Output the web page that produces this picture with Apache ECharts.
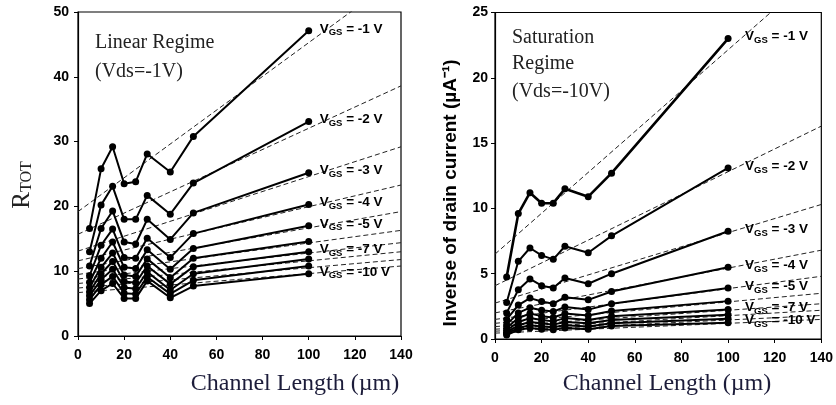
<!DOCTYPE html>
<html>
<head>
<meta charset="utf-8">
<script src="https://cdn.jsdelivr.net/npm/echarts@6/dist/echarts.min.js"></script>
<style>
  html, body { margin: 0; padding: 0; background: #fff; }
  #chart { width: 836px; height: 405px; }
</style>
</head>
<body>
<div id="chart"></div>
<script>
// Channel lengths (µm) where devices were measured
const channelLength = [5, 10, 15, 20, 25, 30, 40, 50, 100];

// Gate voltages, one curve per value
const gateVoltage = ['-1 V', '-2 V', '-3 V', '-4 V', '-5 V', '-6 V', '-7 V', '-8 V', '-9 V', '-10 V'];
const gateLabelShown = [true, true, true, true, true, false, true, false, false, true];

// Linear regime (Vds = -1 V): total resistance R_TOT
const rLinear = [
  [16.6, 25.8, 29.2, 23.5, 23.8, 28.1, 25.3, 30.8, 47.1],
  [13.0, 20.2, 23.1, 18.0, 18.0, 21.7, 18.8, 23.6, 33.1],
  [10.8, 16.6, 19.3, 14.5, 14.2, 18.0, 14.9, 19.0, 25.2],
  [9.3, 14.0, 16.5, 12.1, 12.0, 15.1, 12.1, 15.8, 20.3],
  [8.3, 12.0, 14.5, 10.6, 10.4, 13.3, 10.3, 13.5, 17.0],
  [7.5, 10.6, 12.8, 9.4, 9.2, 11.9, 9.0, 12.0, 14.6],
  [6.8, 9.6, 11.5, 8.4, 8.2, 10.8, 8.0, 10.7, 13.0],
  [6.2, 8.7, 10.3, 7.5, 7.3, 9.9, 7.1, 9.6, 11.9],
  [5.6, 7.9, 9.2, 6.6, 6.5, 9.1, 6.5, 8.6, 10.8],
  [5.0, 7.0, 8.1, 5.8, 5.8, 8.5, 5.9, 7.7, 9.6]
];
// Linear fits: values at channel length 0 and 140 µm
const fitLinearStart = [19.2, 15.7, 13.1, 11.6, 10.4, 9.5, 8.8, 8.1, 7.4, 6.7];
const fitLinearEnd   = [55.7, 38.6, 29.2, 23.3, 19.2, 16.3, 14.4, 13.0, 11.8, 10.8];

// Saturation regime (Vds = -10 V): inverse of drain current (µA^-1)
const invIdSat = [
  [4.75, 9.6, 11.2, 10.4, 10.4, 11.5, 10.9, 12.7, 23.0],
  [2.8, 5.95, 6.97, 6.4, 6.1, 7.1, 6.6, 7.9, 13.1],
  [2.0, 3.77, 4.6, 4.08, 3.9, 4.67, 4.23, 5.0, 8.25],
  [1.5, 2.6, 3.13, 2.87, 2.7, 3.2, 3.0, 3.64, 5.5],
  [1.1, 2.0, 2.4, 2.2, 2.1, 2.45, 2.25, 2.7, 3.9],
  [0.85, 1.6, 1.95, 1.75, 1.65, 1.95, 1.8, 2.15, 2.9],
  [0.65, 1.3, 1.6, 1.45, 1.35, 1.6, 1.45, 1.75, 2.25],
  [0.5, 1.05, 1.3, 1.2, 1.1, 1.3, 1.2, 1.45, 1.85],
  [0.4, 0.85, 1.05, 0.95, 0.9, 1.05, 0.95, 1.2, 1.55],
  [0.3, 0.7, 0.85, 0.75, 0.7, 0.85, 0.75, 1.0, 1.25]
];
const fitSatStart = [6.5, 4.08, 2.75, 2.0, 1.5, 1.2, 0.95, 0.75, 0.6, 0.45];
const fitSatEnd   = [28.4, 16.3, 10.3, 6.8, 4.8, 3.5, 2.7, 2.2, 1.8, 1.5];

// Axis ranges and ticks
const xTicks = { min: 0, max: 140, interval: 20 };
const yLinearTicks = { min: 0, max: 50, interval: 10 };
const ySatTicks = { min: 0, max: 25, interval: 5 };
const fitRange = [0, 140];

const sans = 'Liberation Sans, Arial, sans-serif';
const serif = 'Liberation Serif, Times New Roman, serif';
const tickFont = { color: '#000', fontFamily: sans, fontWeight: 'bold', fontSize: 14 };

function curveLabel(text, show, dist) {
  return {
    show: show,
    distance: dist,
    offset: [0, -2],
    formatter: '{v|V}{s|GS}{v| = ' + text + '}',
    rich: {
      v: { fontFamily: sans, fontWeight: 'bold', fontSize: 13.5, color: '#000' },
      s: { fontFamily: sans, fontWeight: 'bold', fontSize: 9.5, color: '#000', padding: [8, 0, 0, 0] }
    }
  };
}

const series = [];
function addPanel(idx, values, fitStart, fitEnd, labelDist, widthFirst) {
  values.forEach((vals, i) => {
    series.push({
      type: 'line',
      xAxisIndex: idx, yAxisIndex: idx,
      data: channelLength.map((x, j) => [x, vals[j]]),
      symbol: 'circle', symbolSize: 7,
      itemStyle: { color: '#000' },
      lineStyle: { color: '#000', width: i === 0 ? widthFirst : 2 },
      endLabel: curveLabel(gateVoltage[i], gateLabelShown[i], labelDist),
      z: 3,
      silent: true,
      animation: false
    });
    series.push({
      type: 'line',
      xAxisIndex: idx, yAxisIndex: idx,
      data: [[fitRange[0], fitStart[i]], [fitRange[1], fitEnd[i]]],
      symbol: 'none',
      lineStyle: { color: '#222', width: 1, type: [5, 3] },
      clip: true,
      z: 2,
      silent: true,
      animation: false
    });
  });
}
addPanel(0, rLinear, fitLinearStart, fitLinearEnd, 11, 2);
addPanel(1, invIdSat, fitSatStart, fitSatEnd, 17, 2.6);

function xAxis(gridIndex) {
  return {
    type: 'value', gridIndex: gridIndex,
    min: xTicks.min, max: xTicks.max, interval: xTicks.interval,
    axisLine: { show: true, lineStyle: { color: '#000', width: 1.2 } },
    axisTick: { show: true, length: 4, lineStyle: { color: '#000' } },
    axisLabel: Object.assign({ margin: 12 }, tickFont),
    splitLine: { show: false }
  };
}
function yAxis(gridIndex, t, margin) {
  return {
    type: 'value', gridIndex: gridIndex,
    min: t.min, max: t.max, interval: t.interval,
    axisLine: { show: true, lineStyle: { color: '#000', width: 1.2 } },
    axisTick: { show: true, length: 4, lineStyle: { color: '#000' } },
    axisLabel: Object.assign({ margin: margin }, tickFont),
    splitLine: { show: false }
  };
}

const chart = echarts.init(document.getElementById('chart'), null, { renderer: 'canvas' });
chart.setOption({
  backgroundColor: '#fff',
  animation: false,
  grid: [
    { left: 78, top: 12, width: 323, height: 324, show: true, borderColor: '#000', borderWidth: 1.2, containLabel: false },
    { left: 495, top: 12.5, width: 327, height: 326.5, show: true, borderColor: '#000', borderWidth: 1.2, containLabel: false }
  ],
  xAxis: [xAxis(0), xAxis(1)],
  yAxis: [yAxis(0, yLinearTicks, 9), yAxis(1, ySatTicks, 7)],
  series: series,
  graphic: [
    { type: 'text', x: 95, y: 43, style: { text: 'Linear Regime', font: '20px ' + serif, fill: '#222', textVerticalAlign: 'middle' } },
    { type: 'text', x: 95, y: 72, style: { text: '(Vds=-1V)', font: '20px ' + serif, fill: '#222', textVerticalAlign: 'middle' } },
    { type: 'text', x: 512, y: 38, style: { text: 'Saturation', font: '20px ' + serif, fill: '#222', textVerticalAlign: 'middle' } },
    { type: 'text', x: 512, y: 64, style: { text: 'Regime', font: '20px ' + serif, fill: '#222', textVerticalAlign: 'middle' } },
    { type: 'text', x: 512, y: 92, style: { text: '(Vds=-10V)', font: '20px ' + serif, fill: '#222', textVerticalAlign: 'middle' } },
    { type: 'text', x: 295, y: 384, style: { text: 'Channel Length (\u00b5m)', font: '24px ' + serif, fill: '#1c1c3a', textAlign: 'center', textVerticalAlign: 'middle' } },
    { type: 'text', x: 667, y: 384, style: { text: 'Channel Length (\u00b5m)', font: '24px ' + serif, fill: '#1c1c3a', textAlign: 'center', textVerticalAlign: 'middle' } },
    { type: 'text', x: 451, y: 193, rotation: Math.PI / 2,
      style: { text: 'Inverse of drain current (\u00b5A\u207b\u00b9)', font: 'bold 19px ' + sans, fill: '#000', textAlign: 'center', textVerticalAlign: 'middle' } },
    { type: 'text', x: 22, y: 185, rotation: Math.PI / 2,
      style: {
        text: '{r|R}{t|TOT}',
        textAlign: 'center', textVerticalAlign: 'middle',
        rich: {
          r: { fontFamily: serif, fontSize: 25, fill: '#222', color: '#222' },
          t: { fontFamily: serif, fontSize: 16, fill: '#222', color: '#222', padding: [9, 0, 0, 0] }
        }
      } }
  ]
});
</script>
</body>
</html>
